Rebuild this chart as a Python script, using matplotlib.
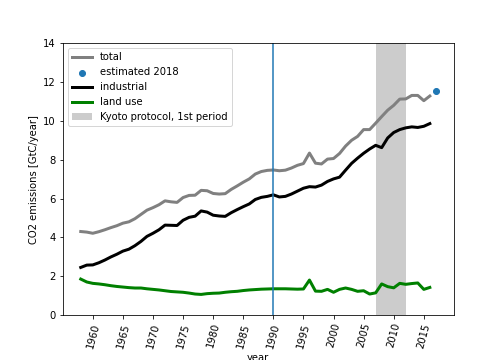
import matplotlib
matplotlib.use("Agg")
import matplotlib.pyplot as plt

years = list(range(1958, 2017))

industrial = [2.45, 2.57, 2.58, 2.69, 2.83, 2.99, 3.13, 3.29, 3.39, 3.57,
              3.79, 4.05, 4.21, 4.39, 4.63, 4.62, 4.61, 4.88, 5.03, 5.09,
              5.36, 5.30, 5.14, 5.10, 5.08, 5.27, 5.43, 5.58, 5.72, 5.95,
              6.06, 6.11, 6.19, 6.08, 6.11, 6.23, 6.38, 6.53, 6.61, 6.59,
              6.69, 6.88, 7.01, 7.10, 7.46, 7.81, 8.08, 8.33, 8.55, 8.74,
              8.62, 9.12, 9.40, 9.55, 9.64, 9.69, 9.66, 9.72, 9.86]

land_use = [1.85, 1.70, 1.63, 1.60, 1.56, 1.51, 1.47, 1.44, 1.41, 1.39,
            1.39, 1.35, 1.32, 1.29, 1.25, 1.21, 1.19, 1.17, 1.13, 1.08,
            1.06, 1.10, 1.12, 1.13, 1.17, 1.20, 1.22, 1.26, 1.29, 1.31,
            1.33, 1.34, 1.35, 1.35, 1.35, 1.34, 1.33, 1.34, 1.80, 1.23,
            1.22, 1.32, 1.17, 1.32, 1.39, 1.32, 1.22, 1.25, 1.08, 1.14,
            1.60, 1.46, 1.40, 1.63, 1.58, 1.62, 1.65, 1.32, 1.42]

total = [4.30, 4.27, 4.21, 4.29, 4.39, 4.50, 4.60, 4.73, 4.80, 4.96,
         5.18, 5.40, 5.53, 5.68, 5.88, 5.83, 5.80, 6.05, 6.16, 6.17,
         6.42, 6.40, 6.26, 6.23, 6.25, 6.47, 6.65, 6.84, 7.01, 7.26,
         7.39, 7.45, 7.47, 7.43, 7.46, 7.57, 7.71, 7.80, 8.34, 7.82,
         7.78, 8.03, 8.06, 8.32, 8.70, 9.00, 9.20, 9.55, 9.55, 9.88,
         10.22, 10.55, 10.80, 11.12, 11.13, 11.31, 11.31, 11.04, 11.28]

est_year = [2017]
est_value = [11.55]

ref_year = 1990
kyoto = (2007, 2012)
xtick_years = list(range(1960, 2016, 5))

fig = plt.figure(figsize=(7, 5), dpi=72)
ax = fig.add_subplot(111)
fig.subplots_adjust(left=0.125, right=0.9, bottom=0.125, top=0.88)

h1, = ax.plot(years, total, color='gray', lw=3, label='total')
h2 = ax.scatter(est_year, est_value, color='C0', label='estimated 2018')
h3, = ax.plot(years, industrial, color='black', lw=3, label='industrial')
h4, = ax.plot(years, land_use, color='green', lw=3, label='land use')
ax.axvline(ref_year, color='C0')
h5 = ax.axvspan(kyoto[0], kyoto[1], color='0.8', lw=0, label='Kyoto protocol, 1st period')

ax.set_ylim(0, 14)
ax.set_xticks(xtick_years)
ax.set_xticklabels([str(y) for y in xtick_years], rotation=75)
ax.set_xlabel('year')
ax.set_ylabel('CO2 emissions [GtC/year]')
ax.legend(handles=[h1, h2, h3, h4, h5], loc='upper left')

fig.savefig('out.png', dpi=72)
